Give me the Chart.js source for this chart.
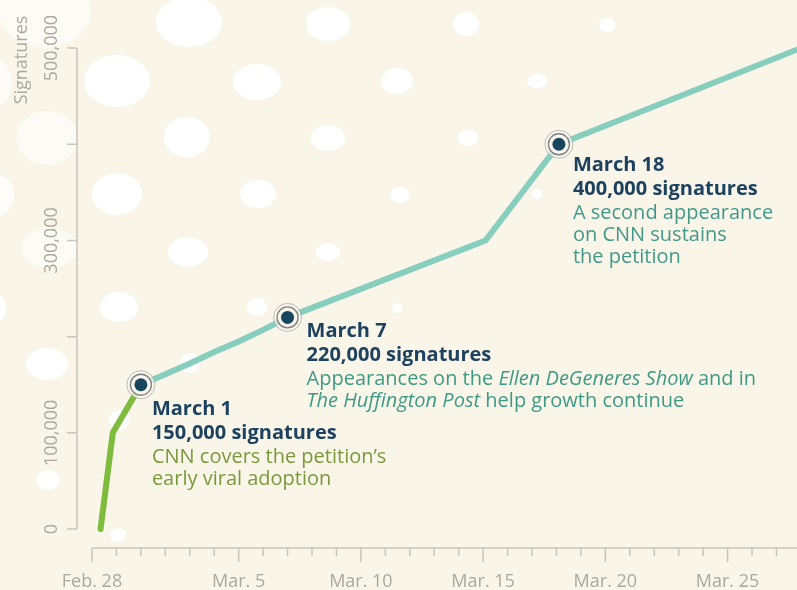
<!DOCTYPE html>
<html>
<head>
<meta charset="utf-8">
<script src="https://cdn.jsdelivr.net/npm/chart.js@4.4.1/dist/chart.umd.min.js"></script>
<style>
  html, body { margin: 0; padding: 0; background: #faf5e9; }
  #wrap { width: 797px; height: 590px; }
</style>
</head>
<body>
<div id="wrap"><canvas id="petitionChart" width="797" height="590"></canvas></div>
<script>
// days counted from Feb. 28 (2012 is a leap year, so Mar. 1 = day 2)
const earlyDays = [0.35, 0.85, 2];
const earlyValues = [0, 100000, 150000];

const laterDays = [2, 3, 4, 5, 6, 7, 8, 16.1, 19.1, 29];
const laterValues = [150000, 161000, 172000, 184000, 195000, 207000, 220000, 300000, 400000, 500000];

const eventDays = [2, 8, 19.1];
const eventValues = [150000, 220000, 400000];
const eventTitles = ['March 1', 'March 7', 'March 18'];
const eventCounts = ['150,000 signatures', '220,000 signatures', '400,000 signatures'];
// _text_ = italic
const eventNotes = [
    ['CNN covers the petition\u2019s', 'early viral adoption'],
    ['Appearances on the _Ellen DeGeneres Show_ and in', '_The Huffington Post_ help growth continue'],
    ['A second appearance', 'on CNN sustains', 'the petition']
];

const xTickDays = [0, 6, 11, 16, 21, 26];
const xTickLabels = ['Feb. 28', 'Mar. 5', 'Mar. 10', 'Mar. 15', 'Mar. 20', 'Mar. 25'];
const yTickValues = [0, 100000, 200000, 300000, 400000, 500000];
const yLabelValues = [0, 100000, 300000, 500000];
const yTitle = 'Signatures';

// look
const navy = '#1d4260';
const noteColors = ['#7a993a', '#3d9a86', '#42998a'];
const noteOffsets = [[11, 30], [19, 20], [14, 27]];
const axisColor = '#c8c4ba';
const axisText = '#aca89f';
const FONT = '"Open Sans", "DejaVu Sans", sans-serif';

// white bokeh dots in the paper background: x, y, rx, ry, alpha
const spots = [
    [45, 10, 46, 38, 0.55], [-14, 82, 26, 28, 0.7], [117, 81, 33, 26, 1], [189, 22, 33, 25, 1],
    [47, 138, 31, 27, 0.6], [-6, 195, 20, 22, 0.75], [117, 194, 25, 21, 1], [187, 137, 23, 20, 1],
    [50, 248, 28, 20, 0.55], [188, 252, 20, 15, 1], [257, 82, 24, 18, 1], [258, 194, 18, 14, 1],
    [328, 138, 17, 13, 1], [328, 252, 12, 9, 1], [328, 24, 22, 17, 1], [397, 81, 16, 13, 1],
    [400, 195, 10, 8, 1], [466, 24, 13, 12, 1], [537, 81, 10, 7, 1], [468, 138, 10, 8, 1],
    [607, 25, 8, 7, 1], [119, 307, 19, 15, 1], [47, 364, 21, 16, 1], [257, 307, 10, 9, 1],
    [-6, 308, 12, 14, 1], [190, 363, 10, 10, 1], [119, 420, 10, 10, 1], [48, 480, 12, 10, 1],
    [118, 535, 8, 7, 1], [397, 308, 5, 5, 1], [537, 194, 5, 5, 1]
];

function toPoints(xs, ys) {
    return xs.map((x, i) => ({ x: x, y: ys[i] }));
}

const paperPlugin = {
    id: 'paper',
    beforeDraw(chart) {
        const ctx = chart.ctx;
        ctx.save();
        ctx.fillStyle = '#faf5e9';
        ctx.fillRect(0, 0, chart.width, chart.height);
        ctx.fillStyle = '#ffffff';
        spots.forEach(s => {
            ctx.globalAlpha = s[4];
            ctx.beginPath();
            ctx.ellipse(s[0], s[1], s[2], s[3], 0, 0, Math.PI * 2);
            ctx.fill();
        });
        ctx.restore();
    }
};

// axes are offset from the plot (d3 style), so they are drawn here from the scales
const axesPlugin = {
    id: 'offsetAxes',
    beforeDatasetsDraw(chart) {
        const ctx = chart.ctx;
        const xs = chart.scales.x, ys = chart.scales.y;
        const axisX = xs.left - 15;
        const axisY = ys.bottom + 19;
        ctx.save();
        ctx.strokeStyle = axisColor;
        ctx.lineWidth = 1.5;

        // y axis
        ctx.beginPath();
        ctx.moveTo(axisX, ys.getPixelForValue(yTickValues[yTickValues.length - 1]));
        ctx.lineTo(axisX, ys.getPixelForValue(0));
        yTickValues.forEach(v => {
            const py = ys.getPixelForValue(v);
            ctx.moveTo(axisX - 10, py);
            ctx.lineTo(axisX, py);
        });
        ctx.stroke();

        ctx.fillStyle = axisText;
        ctx.font = '18px ' + FONT;
        ctx.textAlign = 'center';
        ctx.textBaseline = 'alphabetic';
        yLabelValues.forEach(v => {
            ctx.save();
            ctx.translate(axisX - 20, ys.getPixelForValue(v));
            ctx.rotate(-Math.PI / 2);
            ctx.fillText(v.toLocaleString('en-US'), 0, 0);
            ctx.restore();
        });
        ctx.save();
        ctx.translate(27, 60);
        ctx.rotate(-Math.PI / 2);
        ctx.fillText(yTitle, 0, 0);
        ctx.restore();

        // x axis
        ctx.beginPath();
        ctx.moveTo(xs.left, axisY);
        ctx.lineTo(xs.right, axisY);
        for (let d = 0; d <= Math.floor(xs.max); d++) {
            const px = xs.getPixelForValue(d);
            const len = xTickDays.includes(d) ? 14 : 8;
            ctx.moveTo(px, axisY);
            ctx.lineTo(px, axisY + len);
        }
        ctx.stroke();
        xTickDays.forEach((d, i) => {
            ctx.fillText(xTickLabels[i], xs.getPixelForValue(d), axisY + 39);
        });
        ctx.restore();
    }
};

function drawRich(ctx, text, x, y, size) {
    const parts = text.split('_');
    parts.forEach((part, i) => {
        ctx.font = (i % 2 ? 'italic ' : '') + size + 'px ' + FONT;
        ctx.fillText(part, x, y);
        x += ctx.measureText(part).width;
    });
}

const notesPlugin = {
    id: 'eventNotes',
    afterDatasetsDraw(chart) {
        const ctx = chart.ctx;
        const meta = chart.getDatasetMeta(4);
        ctx.save();
        ctx.textAlign = 'left';
        ctx.textBaseline = 'alphabetic';
        meta.data.forEach((pt, i) => {
            const bx = pt.x + noteOffsets[i][0];
            let by = pt.y + noteOffsets[i][1];
            ctx.fillStyle = navy;
            ctx.font = 'bold 20px ' + FONT;
            ctx.fillText(eventTitles[i], bx, by);
            by += 24;
            ctx.fillText(eventCounts[i], bx, by);
            by += 24;
            ctx.fillStyle = noteColors[i];
            eventNotes[i].forEach(line => {
                drawRich(ctx, line, bx, by, 20);
                by += 22;
            });
        });
        ctx.restore();
    }
};

const ctx = document.getElementById('petitionChart').getContext('2d');
new Chart(ctx, {
    type: 'line',
    data: {
        datasets: [
            {
                label: 'Early growth',
                data: toPoints(earlyDays, earlyValues),
                borderColor: '#7dbc3c',
                borderWidth: 6,
                borderCapStyle: 'round',
                borderJoinStyle: 'round',
                pointRadius: 0,
                clip: false,
                order: 4
            },
            {
                label: 'Signatures',
                data: toPoints(laterDays, laterValues),
                borderColor: '#88cebf',
                borderWidth: 6,
                borderJoinStyle: 'round',
                pointRadius: 0,
                clip: false,
                order: 3
            },
            {
                // outer ring of the event markers
                data: toPoints(eventDays, eventValues),
                showLine: false,
                pointRadius: 14,
                pointBackgroundColor: 'rgba(250,246,236,0.75)',
                pointBorderColor: 'rgba(130,130,130,0.5)',
                pointBorderWidth: 1,
                clip: false,
                order: 2
            },
            {
                // inner ring
                data: toPoints(eventDays, eventValues),
                showLine: false,
                pointRadius: 10.5,
                pointBackgroundColor: 'rgba(250,246,236,0.85)',
                pointBorderColor: 'rgba(70,80,90,0.7)',
                pointBorderWidth: 1.3,
                clip: false,
                order: 1
            },
            {
                label: 'Events',
                data: toPoints(eventDays, eventValues),
                showLine: false,
                pointRadius: 6.5,
                pointBackgroundColor: '#17465e',
                pointBorderWidth: 0,
                clip: false,
                order: 0
            }
        ]
    },
    options: {
        responsive: false,
        devicePixelRatio: 1,
        animation: false,
        layout: { autoPadding: false, padding: { left: 92, right: 0, top: 0, bottom: 61 } },
        elements: { line: { tension: 0 } },
        scales: {
            x: { type: 'linear', display: false, min: 0, max: 28.84 },
            y: { type: 'linear', display: false, min: 0, max: 550000 }
        },
        plugins: {
            legend: { display: false },
            tooltip: { enabled: false }
        }
    },
    plugins: [paperPlugin, axesPlugin, notesPlugin]
});
</script>
</body>
</html>
